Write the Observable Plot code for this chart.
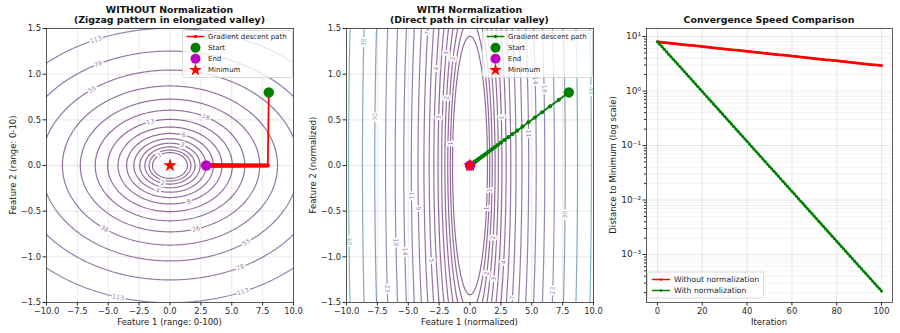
<!DOCTYPE html>
<html><head><meta charset="utf-8">
<script src="https://cdn.jsdelivr.net/npm/d3@7"></script>
<script src="https://cdn.jsdelivr.net/npm/@observablehq/plot@0.6"></script>
<style>
body{margin:0;background:#fff;}
#fig{position:relative;width:900px;height:333px;overflow:hidden;background:#fff}
#fig svg{position:absolute;top:0}
</style></head>
<body><div id="fig"></div>
<script>
// ---------------- DATA ----------------
const titles = [["WITHOUT Normalization", "(Zigzag pattern in elongated valley)"],
                ["WITH Normalization", "(Direct path in circular valley)"],
                ["Convergence Speed Comparison"]];
const xLabels = ["Feature 1 (range: 0-100)", "Feature 1 (normalized)", "Iteration"];
const yLabels = ["Feature 2 (range: 0-10)", "Feature 2 (normalized)", "Distance to Minimum (log scale)"];
const legendPathLabels = ["Gradient descent path", "Start", "End", "Minimum"];
const legendSeriesLabels = ["Without normalization", "With normalization"];

// loss surfaces f = a*x^2 + b*y^2
const coef1 = [0.5, 50];
const coef2 = [0.5, 0.5];
// contour levels (log spaced)
const levels1 = [1, 1.438, 2.069, 2.976, 4.281, 6.158, 8.859, 12.74, 18.33, 26.37, 37.93, 54.56, 78.48, 112.9, 162.4, 233.6, 336.0, 483.3, 695.2, 1000];
const levels2 = [1, 1.274, 1.624, 2.069, 2.637, 3.360, 4.281, 5.456, 6.952, 8.859, 11.29, 14.38, 18.33, 23.36, 29.76, 37.93, 48.33, 61.58, 78.48, 100];

// contour label anchors, panel 1: level index, x, side of y
const labels1Level = [13, 12, 11, 7, 8, 5, 3, 0, 2, 4, 6, 10, 9, 11, 12, 13, 13];
const labels1X = [-6.0, -5.8, -6.3, -1.6, 2.9, 1.1, 1.0, -0.85, -0.6, -1.0, 1.5, -5.3, 2.1, 6.2, 5.7, -4.2, 5.9];
const labels1Side = [1, 1, 1, 1, 1, 1, 1, 1, -1, -1, -1, -1, -1, -1, -1, -1, -1];
// contour label anchors, panel 2: level index, y, side of x
const labels2Level = [15, 14, 8, 6, 4, 2, 3, 5, 1,   5, 11, 12, 10, 16, 15,   10, 9, 12, 11, 7, 16, 13,   1, 0, 3, 6, 2, 4, 8, 14, 13];
const labels2Y = [1.35, 0.53, 1.45, 1.06, 1.23, 1.17, 0.74, 0.53, 0.24,   0.53, 0.93, 0.84, 0.35, 0.82, 1.38,   -0.33, -0.47, -0.84, -0.94, -1.04, -0.83, -1.35,   -0.27, -0.47, -0.79, -1.06, -1.18, -1.24, -1.45, -0.54, -1.37];
const labels2Side = [-1, -1, -1, -1, -1, -1, -1, -1, -1,   1, 1, 1, 1, 1, 1,   -1, -1, -1, -1, -1, -1, -1,   1, 1, 1, 1, 1, 1, 1, 1, 1];

// gradient descent path without normalization (101 iterations)
const redPathX = [8, 7.92, 7.8408, 7.7624, 7.6848, 7.6079, 7.5318, 7.4565, 7.3820, 7.3081,
  7.2351, 7.1627, 7.0911, 7.0202, 6.9500, 6.8805, 6.8117, 6.7435, 6.6761, 6.6093,
  6.5433, 6.4778, 6.4130, 6.3489, 6.2854, 6.2226, 6.1603, 6.0987, 6.0378, 5.9774,
  5.9176, 5.8584, 5.7998, 5.7418, 5.6844, 5.6276, 5.5713, 5.5156, 5.4604, 5.4058,
  5.3518, 5.2983, 5.2453, 5.1928, 5.1409, 5.0895, 5.0386, 4.9882, 4.9383, 4.8889,
  4.8400, 4.7916, 4.7437, 4.6963, 4.6493, 4.6028, 4.5568, 4.5112, 4.4661, 4.4215,
  4.3773, 4.3335, 4.2901, 4.2472, 4.2048, 4.1627, 4.1211, 4.0799, 4.0391, 3.9987,
  3.9587, 3.9191, 3.8799, 3.8411, 3.8027, 3.7647, 3.7270, 3.6898, 3.6529, 3.6164,
  3.5802, 3.5444, 3.5089, 3.4739, 3.4391, 3.4047, 3.3707, 3.3370, 3.3036, 3.2706,
  3.2379, 3.2055, 3.1734, 3.1417, 3.1103, 3.0792, 3.0484, 3.0179, 2.9877, 2.9578, 2.9283];
const redPathY = [0.8, 0, 0, 0, 0, 0, 0, 0, 0, 0,
  0, 0, 0, 0, 0, 0, 0, 0, 0, 0,
  0, 0, 0, 0, 0, 0, 0, 0, 0, 0,
  0, 0, 0, 0, 0, 0, 0, 0, 0, 0,
  0, 0, 0, 0, 0, 0, 0, 0, 0, 0,
  0, 0, 0, 0, 0, 0, 0, 0, 0, 0,
  0, 0, 0, 0, 0, 0, 0, 0, 0, 0,
  0, 0, 0, 0, 0, 0, 0, 0, 0, 0,
  0, 0, 0, 0, 0, 0, 0, 0, 0, 0,
  0, 0, 0, 0, 0, 0, 0, 0, 0, 0, 0];
// gradient descent path with normalization
const greenPathX = [8, 7.2, 6.48, 5.832, 5.2488, 4.7239, 4.2515, 3.8264, 3.4437, 3.0994,
  2.7894, 2.5105, 2.2594, 2.0335, 1.8301, 1.6471, 1.4824, 1.3342, 1.2008, 1.0807,
  0.97261, 0.87535, 0.78782, 0.70904, 0.63813, 0.57432, 0.51689, 0.46520, 0.41868, 0.37681,
  0.33913, 0.30522, 0.27469, 0.24723, 0.22250, 0.20025, 0.18023, 0.16220, 0.14598, 0.13139,
  0.11825, 0.10642, 0.095780, 0.086202, 0.077582, 0.069824, 0.062841, 0.056557, 0.050902, 0.045811,
  0.041230, 0.037107, 0.033396, 0.030057, 0.027051, 0.024346, 0.021911, 0.019720, 0.017748, 0.015973,
  0.014376, 0.012938, 0.011645, 0.010480, 0.0094322, 0.0084890, 0.0076400, 0.0068760, 0.0061884, 0.0055696,
  0.0050126, 0.0045114, 0.0040602, 0.0036542, 0.0032888, 0.0029599, 0.0026639, 0.0023975, 0.0021578, 0.0019420,
  0.0017478, 0.0015730, 0.0014157, 0.0012741, 0.0011467, 0.0010321, 0.00092886, 0.00083597, 0.00075238, 0.00067714,
  0.00060942, 0.00054848, 0.00049363, 0.00044427, 0.00039984, 0.00035986, 0.00032387, 0.00029149, 0.00026234, 0.00023610, 0.00021249];
const greenPathY = [0.8, 0.72, 0.648, 0.5832, 0.52488, 0.47239, 0.42515, 0.38264, 0.34437, 0.30994,
  0.27894, 0.25105, 0.22594, 0.20335, 0.18301, 0.16471, 0.14824, 0.13342, 0.12008, 0.10807,
  0.097261, 0.087535, 0.078782, 0.070904, 0.063813, 0.057432, 0.051689, 0.046520, 0.041868, 0.037681,
  0.033913, 0.030522, 0.027469, 0.024723, 0.022250, 0.020025, 0.018023, 0.016220, 0.014598, 0.013139,
  0.011825, 0.010642, 0.0095780, 0.0086202, 0.0077582, 0.0069824, 0.0062841, 0.0056557, 0.0050902, 0.0045811,
  0.0041230, 0.0037107, 0.0033396, 0.0030057, 0.0027051, 0.0024346, 0.0021911, 0.0019720, 0.0017748, 0.0015973,
  0.0014376, 0.0012938, 0.0011645, 0.0010480, 0.00094322, 0.00084890, 0.00076400, 0.00068760, 0.00061884, 0.00055696,
  0.00050126, 0.00045114, 0.00040602, 0.00036542, 0.00032888, 0.00029599, 0.00026639, 0.00023975, 0.00021578, 0.00019420,
  0.00017478, 0.00015730, 0.00014157, 0.00012741, 0.00011467, 0.00010321, 0.000092886, 0.000083597, 0.000075238, 0.000067714,
  0.000060942, 0.000054848, 0.000049363, 0.000044427, 0.000039984, 0.000035986, 0.000032387, 0.000029149, 0.000026234, 0.000023610, 0.000021249];
const minimumX = [0];
const minimumY = [0];

// ticks
const xTicks12 = [-10, -7.5, -5, -2.5, 0, 2.5, 5, 7.5, 10];
const yTicks12 = [-1.5, -1.0, -0.5, 0, 0.5, 1.0, 1.5];
const xTicks3 = [0, 20, 40, 60, 80, 100];
const yTicks3 = [1e-3, 1e-2, 1e-1, 1, 10];

// ---------------- LAYOUT ----------------
const W = 300, H = 333, MT = 28, MB = 31, ML = 46;
const MR = [7, 7, 8];
const RED = "#ff0000", GREEN = "#008000", MAG = "#bf00bf";
const FONT = "DejaVu Sans";
const fig = document.getElementById("fig");
const style = {fontFamily: FONT, fontSize: "8.4px", color: "#2a2a2a", background: "transparent", overflow: "visible"};
const fmt1 = d3.format(".1f");
const gridStyle = {stroke: "#b0b0b0", strokeOpacity: 0.35, strokeWidth: 0.8};

function place(svg, left) { svg.style.left = left + "px"; fig.appendChild(svg); }

function normAngle(a) { while (a > 90) a -= 180; while (a <= -90) a += 180; return a; }

const pathRows = (X, Y) => X.map((x, i) => ({x, y: Y[i], i}));
const redPath = pathRows(redPathX, redPathY);
const greenPath = pathRows(greenPathX, greenPathY);
const minimum = pathRows(minimumX, minimumY);

function contourPanel(left, coef, levels, labels, path, color, mr) {
  const kx = (W - ML - mr) / 20, ky = (H - MT - MB) / 3;
  const f = (x, y) => coef[0] * x * x + coef[1] * y * y;
  const [a, b] = coef;
  const labelRows = labels.map(({L, x, y}) => {
    const dx = kx * 2 * b * y, dy = ky * 2 * a * x;
    return {x, y, L, t: d3.format(".0f")(L), ang: normAngle(Math.atan2(dy, dx) * 180 / Math.PI)};
  });
  const svg = Plot.plot({
    width: W, height: H, marginTop: MT, marginBottom: MB, marginLeft: ML, marginRight: mr,
    style,
    x: {domain: [-10, 10]},
    y: {domain: [-1.5, 1.5]},
    color: {type: "linear", domain: [levels[0], levels[levels.length - 1]], interpolate: d3.interpolateViridis},
    marks: [
      Plot.gridX(xTicks12, gridStyle),
      Plot.gridY(yTicks12, gridStyle),
      Plot.contour({value: f, x1: -10.6, x2: 10.6, y1: -1.62, y2: 1.62, thresholds: levels,
        stroke: "value", fill: "none", strokeWidth: 1.2, strokeOpacity: 0.58, clip: true, pixelSize: 1}),
      Plot.text(labelRows, {x: "x", y: "y", text: "t", rotate: "ang", fill: "L", fillOpacity: 0.6,
        stroke: "white", strokeWidth: 3.5, fontSize: 6.3, fontFamily: FONT}),
      Plot.line(path, {x: "x", y: "y", stroke: color, strokeWidth: 1.8}),
      Plot.dot(path, {x: "x", y: "y", fill: color, r: 2.1}),
      Plot.dot([path[0]], {x: "x", y: "y", fill: GREEN, r: 5.2}),
      Plot.dot([path[path.length - 1]], {x: "x", y: "y", fill: MAG, r: 5.2}),
      Plot.dot(minimum, {x: "x", y: "y", fill: RED, symbol: "star", r: 4.3}),
      Plot.axisX(xTicks12, {tickFormat: fmt1, tickSize: 3.5, tickPadding: 2, label: null, fontSize: 8.4}),
      Plot.axisY(yTicks12, {tickFormat: fmt1, tickSize: 3.5, tickPadding: 2, label: null, fontSize: 8.4}),
      Plot.frame({stroke: "#333", strokeWidth: 0.8})
    ]
  });
  place(svg, left);
}

const lab1 = labels1Level.map((li, i) => {
  const L = levels1[li], x = labels1X[i];
  return {L, x, y: labels1Side[i] * Math.sqrt((L - coef1[0] * x * x) / coef1[1])};
});
const lab2 = labels2Level.map((li, i) => {
  const L = levels2[li], y = labels2Y[i];
  return {L, y, x: labels2Side[i] * Math.sqrt((L - coef2[1] * y * y) / coef2[0])};
});

contourPanel(0, coef1, levels1, lab1, redPath, RED, MR[0]);
contourPanel(300, coef2, levels2, lab2, greenPath, GREEN, MR[1]);

// ---------------- PANEL 3 ----------------
const conv = [
  ...redPath.map(d => ({i: d.i, d: Math.hypot(d.x, d.y), s: legendSeriesLabels[0]})),
  ...greenPath.map(d => ({i: d.i, d: Math.hypot(d.x, d.y), s: legendSeriesLabels[1]}))
];
const minor = [];
for (let e = -4; e <= 1; e++) for (let m = 2; m <= 9; m++) minor.push(m * Math.pow(10, e));
const sup = {"-": "\u207B", "0": "\u2070", "1": "\u00B9", "2": "\u00B2", "3": "\u00B3", "4": "\u2074"};
const logFmt = d => "10" + String(Math.round(Math.log10(d))).split("").map(c => sup[c]).join("");
const yDom3 = [Math.pow(10, -3.88), Math.pow(10, 1.147)];
const minorIn = minor.filter(v => v >= yDom3[0] && v <= yDom3[1]);
const svg3 = Plot.plot({
  width: W, height: H, marginTop: MT, marginBottom: MB, marginLeft: ML, marginRight: MR[2],
  style,
  x: {domain: [-4.9, 104.9]},
  y: {type: "log", domain: yDom3},
  color: {domain: legendSeriesLabels, range: [RED, GREEN]},
  marks: [
    Plot.gridY(minorIn, {stroke: "#b0b0b0", strokeOpacity: 0.25, strokeWidth: 0.6}),
    Plot.gridX(xTicks3, gridStyle),
    Plot.gridY(yTicks3, gridStyle),
    Plot.line(conv, {x: "i", y: "d", z: "s", stroke: "s", strokeWidth: 2}),
    Plot.dot(conv, {x: "i", y: "d", fill: "s", r: 1.5}),
    Plot.axisX(xTicks3, {tickSize: 3.5, tickPadding: 2, label: null, fontSize: 8.4}),
    Plot.axisY(yTicks3, {tickFormat: logFmt, tickSize: 3.5, tickPadding: 2, label: null, fontSize: 9}),
    Plot.axisY(minorIn, {tickFormat: () => "", tickSize: 2, label: null}),
    Plot.frame({stroke: "#333", strokeWidth: 0.8})
  ]
});
place(svg3, 600);

// ---------------- OVERLAY: titles, labels, legends ----------------
const ov = d3.select(fig).append("svg").attr("width", 900).attr("height", 333)
  .style("left", "0px").style("font-family", FONT);
const frames = [[46, 293], [346, 593], [646, 892]];
frames.forEach(([l, r], k) => {
  const cx = (l + r) / 2;
  const t = titles[k];
  t.forEach((line, j) => {
    ov.append("text").attr("x", cx).attr("y", t.length === 2 ? 12.5 + j * 10.8 : 23.2)
      .attr("text-anchor", "middle").attr("font-weight", "bold").attr("font-size", 9.4).attr("fill", "#111").text(line);
  });
  ov.append("text").attr("x", cx).attr("y", 325).attr("text-anchor", "middle")
    .attr("font-size", 8.5).attr("fill", "#222").text(xLabels[k]);
  const yx = l - 33;
  ov.append("text").attr("transform", `translate(${yx},165) rotate(-90)`).attr("text-anchor", "middle")
    .attr("dominant-baseline", "central").attr("font-size", 8.5).attr("fill", "#222").text(yLabels[k]);
});

function pathLegend(x0, lineColor) {
  const g = ov.append("g");
  g.append("rect").attr("x", x0).attr("y", 30.5).attr("width", 110).attr("height", 47).attr("rx", 2)
    .attr("fill", "white").attr("fill-opacity", 0.8).attr("stroke", "#d0d0d0").attr("stroke-width", 0.8);
  const rows = [36.5, 47.7, 58.8, 70];
  const sx = x0 + 13, tx = x0 + 25.5;
  g.append("line").attr("x1", sx - 9).attr("x2", sx + 9).attr("y1", rows[0]).attr("y2", rows[0])
    .attr("stroke", lineColor).attr("stroke-width", 1.5);
  g.append("circle").attr("cx", sx).attr("cy", rows[0]).attr("r", 1.7).attr("fill", lineColor);
  g.append("circle").attr("cx", sx).attr("cy", rows[1]).attr("r", 5).attr("fill", GREEN);
  g.append("circle").attr("cx", sx).attr("cy", rows[2]).attr("r", 5).attr("fill", MAG);
  g.append("path").attr("d", d3.symbol(d3.symbolStar, 52)()).attr("transform", `translate(${sx},${rows[3]})`).attr("fill", RED);
  legendPathLabels.forEach((s, j) => g.append("text").attr("x", tx).attr("y", rows[j])
    .attr("dominant-baseline", "central").attr("font-size", 7).attr("fill", "#222").text(s));
}
pathLegend(182.5, RED);
pathLegend(482.5, GREEN);

(function seriesLegend() {
  const g = ov.append("g");
  g.append("rect").attr("x", 647.5).attr("y", 272).attr("width", 116).attr("height", 26).attr("rx", 2)
    .attr("fill", "white").attr("fill-opacity", 0.8).attr("stroke", "#d0d0d0").attr("stroke-width", 0.8);
  const rows = [279.5, 290.5];
  [RED, GREEN].forEach((c, j) => {
    g.append("line").attr("x1", 652).attr("x2", 670).attr("y1", rows[j]).attr("y2", rows[j]).attr("stroke", c).attr("stroke-width", 1.5);
    g.append("circle").attr("cx", 661).attr("cy", rows[j]).attr("r", 1.2).attr("fill", c);
    g.append("text").attr("x", 674).attr("y", rows[j]).attr("dominant-baseline", "central")
      .attr("font-size", 7.7).attr("fill", "#222").text(legendSeriesLabels[j]);
  });
})();
</script>
</body></html>
